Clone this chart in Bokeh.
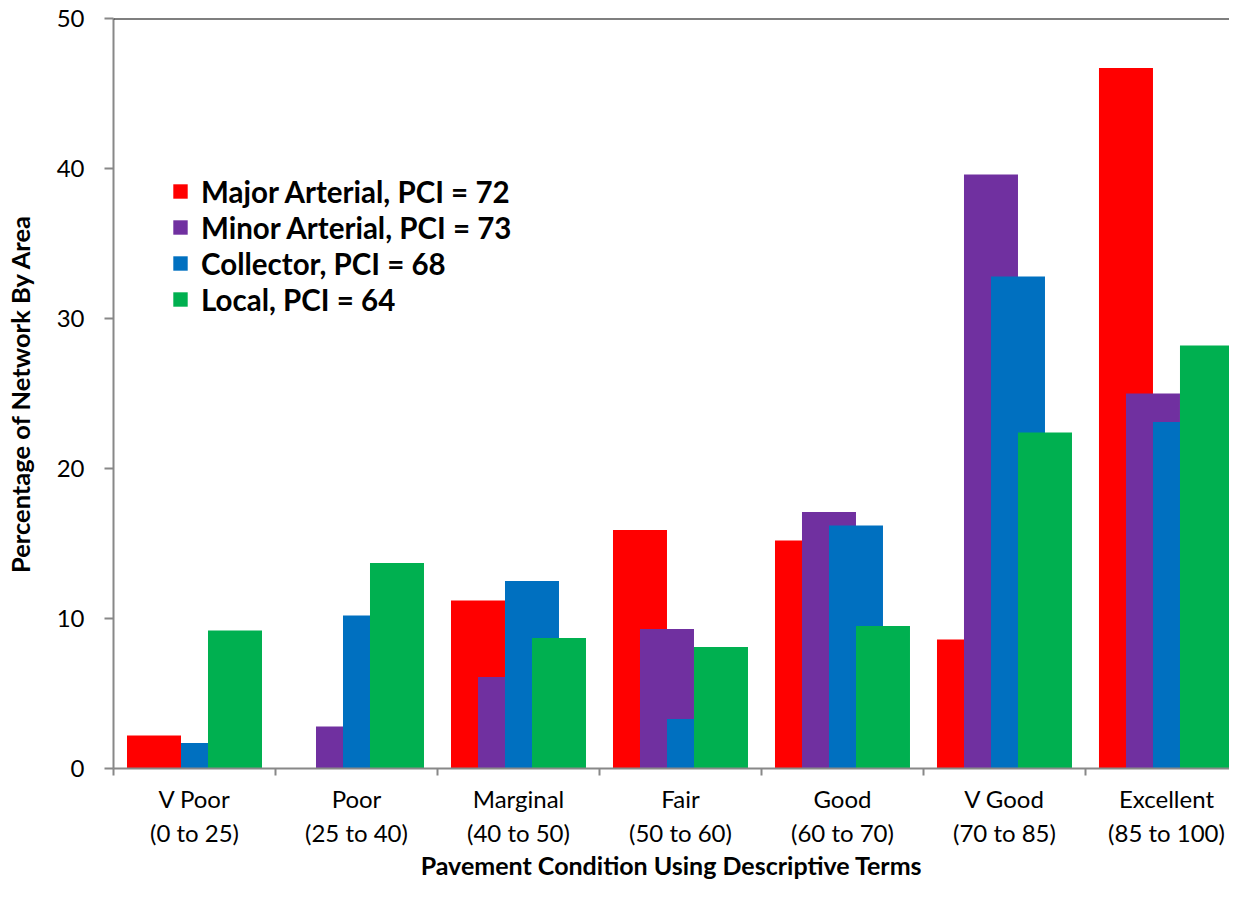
from bokeh.plotting import figure
from bokeh.models import Range1d, FixedTicker, Span, Legend, LegendItem
from bokeh.embed import file_html
from bokeh.resources import INLINE
import numpy as np

categories = ["V Poor\n(0 to 25)", "Poor\n(25 to 40)", "Marginal\n(40 to 50)", "Fair\n(50 to 60)",
              "Good\n(60 to 70)", "V Good\n(70 to 85)", "Excellent\n(85 to 100)"]
series_names = ["Major Arterial, PCI = 72", "Minor Arterial, PCI = 73", "Collector, PCI = 68", "Local, PCI = 64"]
major_arterial = [2.2, 0.0, 11.2, 15.9, 15.2, 8.6, 46.7]
minor_arterial = [0.0, 2.8, 6.1, 9.3, 17.1, 39.6, 25.0]
collector = [1.7, 10.2, 12.5, 3.3, 16.2, 32.8, 23.1]
local = [9.2, 13.7, 8.7, 8.1, 9.5, 22.4, 28.2]
colors = ["#FF0000", "#7030A0", "#0070C0", "#00B050"]
y_ticks = [0, 10, 20, 30, 40, 50]

FONT = "Lato"

p = figure(width=1229, height=883, output_backend="svg", toolbar_location=None,
           x_range=Range1d(0, 6.889), y_range=Range1d(0, 50),
           min_border_left=113, min_border_right=0, min_border_top=18, min_border_bottom=114)
p.outline_line_color = None
p.xgrid.visible = False
p.ygrid.visible = False

idx = np.arange(len(categories))
offsets = [-0.25, -1 / 12, 1 / 12, 0.25]
renderers = []
for vals, off, col in zip([major_arterial, minor_arterial, collector, local], offsets, colors):
    r = p.vbar(x=idx + 0.5 + off, top=vals, width=1 / 3, fill_color=col, line_color=None)
    renderers.append(r)

p.add_layout(Span(location=50, dimension="width", line_color="black", line_width=2))

# x axis
p.xaxis.ticker = FixedTicker(ticks=list(idx + 0.5), minor_ticks=list(range(len(categories) + 1)))
p.xaxis.major_label_overrides = {float(i + 0.5): c for i, c in enumerate(categories)}
p.xaxis.major_tick_out = 0
p.xaxis.major_tick_in = 0
p.xaxis.minor_tick_out = 7
p.xaxis.minor_tick_in = 0
p.xaxis.minor_tick_line_color = "#888888"
p.xaxis.minor_tick_line_width = 2
p.xaxis.axis_line_color = "#888888"
p.xaxis.axis_line_width = 2
p.xaxis.major_label_standoff = 8
p.xaxis.major_label_text_font = FONT
p.xaxis.major_label_text_font_size = "24px"
p.xaxis.major_label_text_color = "black"
p.xaxis.axis_label = "Pavement Condition Using Descriptive Terms"
p.xaxis.axis_label_text_font = FONT
p.xaxis.axis_label_text_font_style = "bold"
p.xaxis.axis_label_text_font_size = "25px"
p.xaxis.axis_label_text_color = "black"
p.xaxis.axis_label_standoff = 0

# y axis
p.yaxis.ticker = FixedTicker(ticks=y_ticks)
p.yaxis.minor_tick_line_color = None
p.yaxis.major_tick_out = 9
p.yaxis.major_tick_in = 0
p.yaxis.major_tick_line_color = "#888888"
p.yaxis.major_tick_line_width = 2
p.yaxis.axis_line_color = "#888888"
p.yaxis.axis_line_width = 2
p.yaxis.major_label_standoff = 20
p.yaxis.major_label_text_font = FONT
p.yaxis.major_label_text_font_size = "24px"
p.yaxis.major_label_text_color = "black"
p.yaxis.axis_label = "Percentage of Network By Area"
p.yaxis.axis_label_text_font = FONT
p.yaxis.axis_label_text_font_style = "bold"
p.yaxis.axis_label_text_font_size = "25.5px"
p.yaxis.axis_label_text_color = "black"
p.yaxis.axis_label_standoff = 19

legend = Legend(items=[LegendItem(label=n, renderers=[r]) for n, r in zip(series_names, renderers)],
                location=(58, 451))
legend.background_fill_alpha = 0
legend.border_line_color = None
legend.padding = 0
legend.margin = 0
legend.spacing = 0
legend.glyph_width = 18
legend.glyph_height = 18
legend.label_height = 36
legend.label_standoff = 12
legend.label_text_font = FONT
legend.label_text_font_style = "bold"
legend.label_text_font_size = "29.5px"
legend.label_text_color = "black"
legend.label_text_baseline = "middle"
p.add_layout(legend, "center")

open("out.html", "w").write(file_html(p, INLINE))
